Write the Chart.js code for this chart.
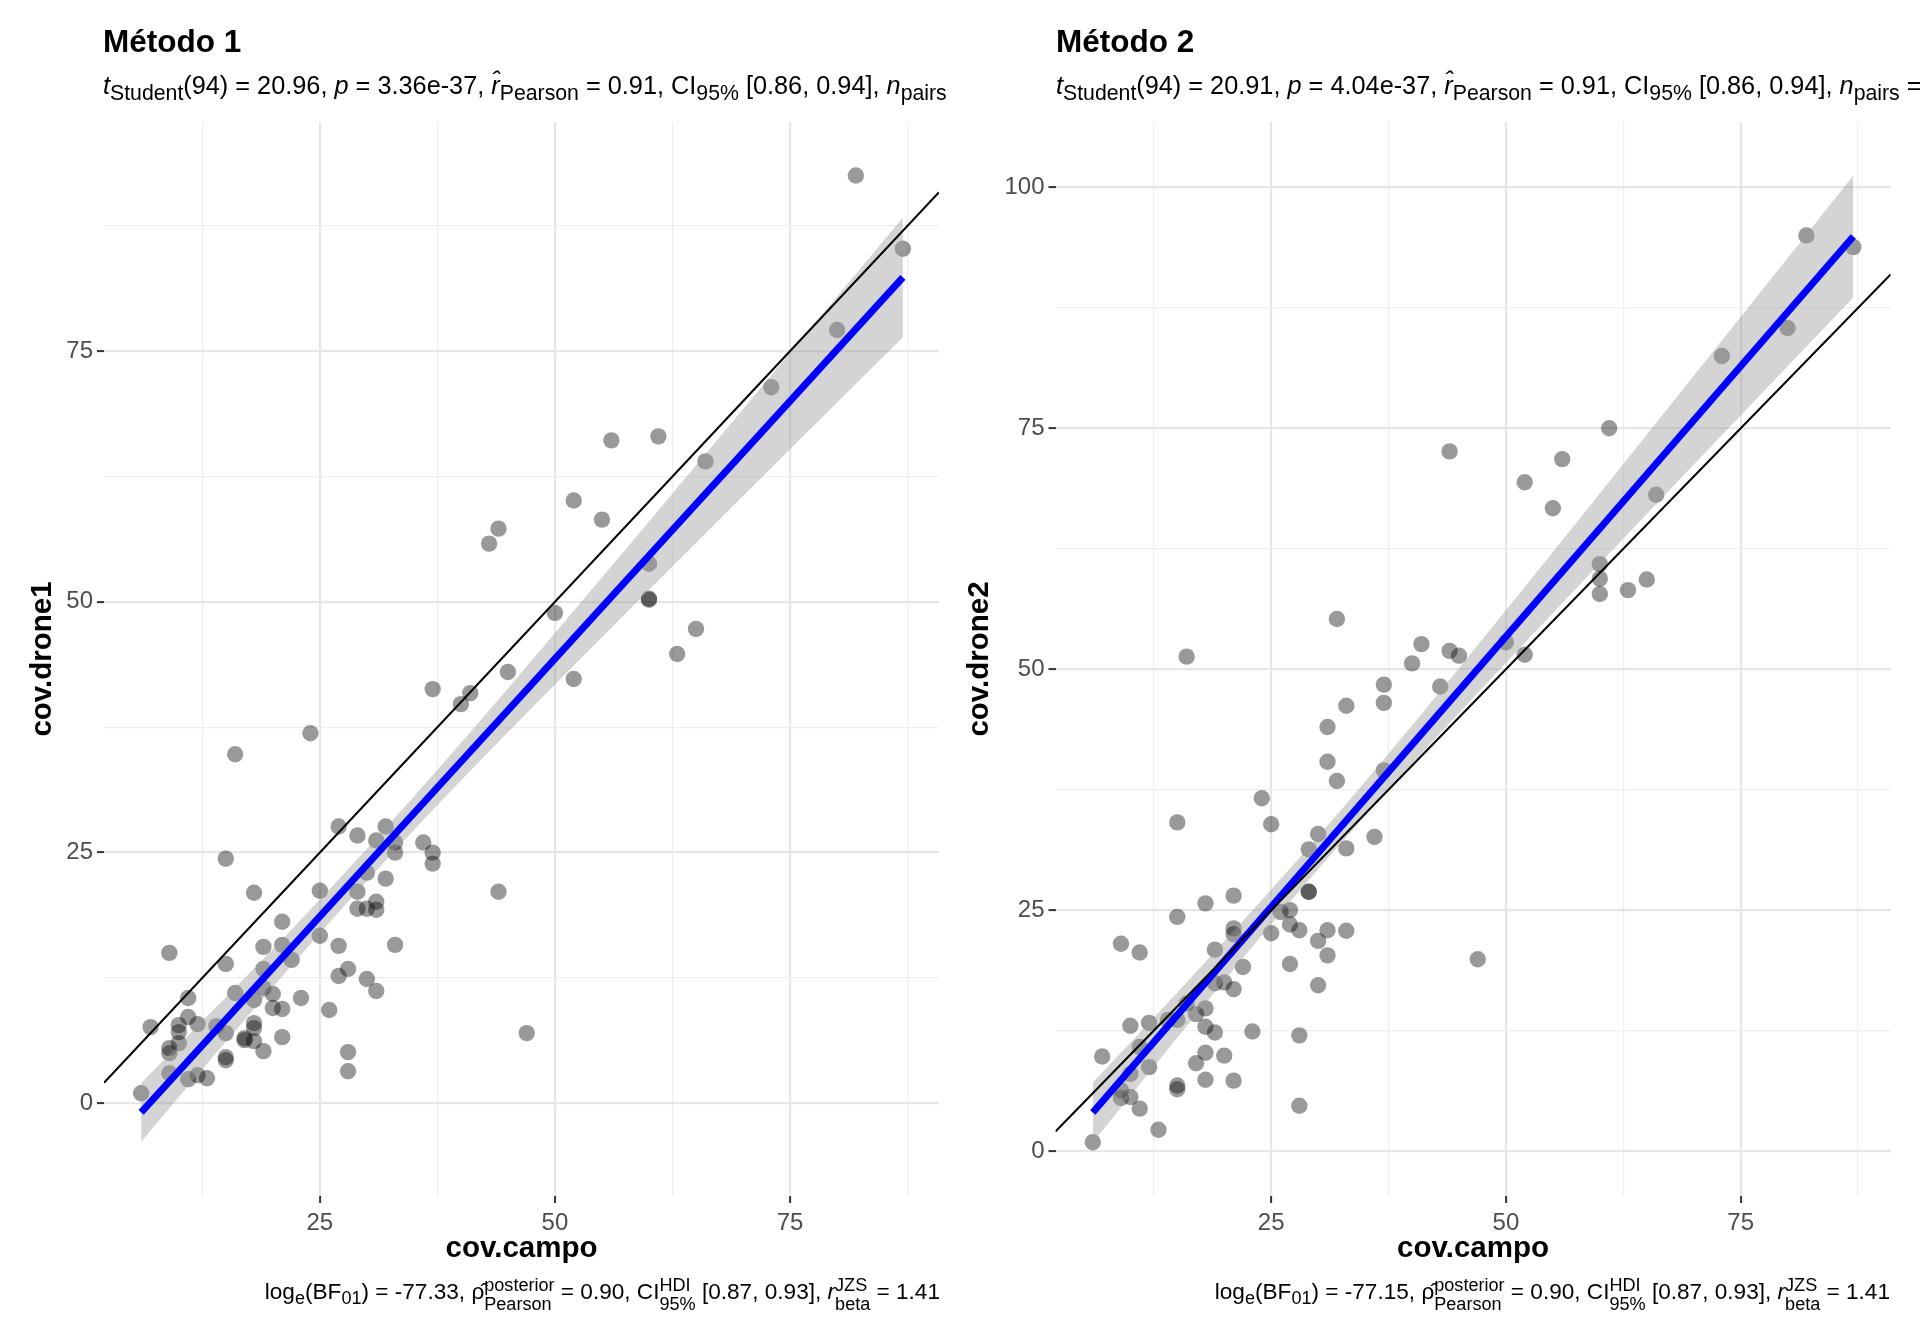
<!DOCTYPE html>
<html>
<head>
<meta charset="utf-8">
<script src="https://cdn.jsdelivr.net/npm/chart.js@4.4.1/dist/chart.umd.min.js"></script>
<style>
  html, body { margin: 0; padding: 0; background: #ffffff; overflow: hidden; }
  #wrap { position: relative; width: 1920px; height: 1344px; background: #ffffff;
          font-family: 'Liberation Sans', Arial, Helvetica, sans-serif; color: #000; }
  canvas { position: absolute; top: 0; }
  .title { position: absolute; top: 26px; font-size: 31.5px; font-weight: bold; line-height: 1; white-space: nowrap; }
  .sub { position: absolute; top: 67px; font-size: 25.3px; line-height: 1.5; white-space: nowrap; overflow: hidden; }
  .sub sub { font-size: 0.84em; vertical-align: -0.28em; line-height: 0; }
  .cap { position: absolute; top: 1271px; font-size: 22.6px; line-height: 1.9; white-space: nowrap; text-align: right; }
  .cap sub { font-size: 0.8em; vertical-align: -0.3em; line-height: 0; }
  .st { display: inline-flex; flex-direction: column; align-items: flex-start; vertical-align: 0.42em;
        font-size: 0.8em; line-height: 1.0; }
</style>
</head>
<body>
<div id="wrap">
  <canvas id="c1" width="960" height="1344" style="left:0px"></canvas>
  <canvas id="c2" width="960" height="1344" style="left:960px"></canvas>

  <div class="title" style="left:103px">Método 1</div>
  <div class="sub" style="left:103px;width:852px"><i>t</i><sub>Student</sub>(94) = 20.96, <i>p</i> = 3.36e-37, <i>r̂</i><sub>Pearson</sub> = 0.91, CI<sub>95%</sub> [0.86, 0.94], <i>n</i><sub>pairs</sub> = 96</div>
  <div class="cap" style="right:980px">log<sub>e</sub>(BF<sub>01</sub>) = -77.33, ρ̂<span class="st"><span>posterior</span><span>Pearson</span></span> = 0.90, CI<span class="st"><span>HDI</span><span>95%</span></span> [0.87, 0.93], <i>r</i><span class="st"><span>JZS</span><span>beta</span></span> = 1.41</div>

  <div class="title" style="left:1056px">Método 2</div>
  <div class="sub" style="left:1056px;width:864px"><i>t</i><sub>Student</sub>(94) = 20.91, <i>p</i> = 4.04e-37, <i>r̂</i><sub>Pearson</sub> = 0.91, CI<sub>95%</sub> [0.86, 0.94], <i>n</i><sub>pairs</sub> = 96</div>
  <div class="cap" style="right:30px">log<sub>e</sub>(BF<sub>01</sub>) = -77.15, ρ̂<span class="st"><span>posterior</span><span>Pearson</span></span> = 0.90, CI<span class="st"><span>HDI</span><span>95%</span></span> [0.87, 0.93], <i>r</i><span class="st"><span>JZS</span><span>beta</span></span> = 1.41</div>
</div>

<script>
// ---------------- DATA ----------------
// Método 1 : cov.campo (x) vs cov.drone1 (y)
const campo1 = [82,87,80,73,56,61,66,52,55,44,43,60,60,60,50,65,63,52,45,37,41,40,24,16,27,29,32,31,36,37,37,33,33,15,18,25,44,32,30,29,29,30,31,31,21,25,27,33,19,21,22,19,9,15,28,27,30,31,26,16,23,20,19,20,21,18,11,11,12,10,10,7,14,15,18,18,17,17,18,21,19,9,9,10,15,15,9,11,12,13,6,28,28,47];
const drone1 = [92.5,85.2,77.1,71.4,66.1,66.5,64.0,60.1,58.2,57.3,55.8,53.8,50.3,50.2,48.9,47.3,44.8,42.3,43.0,41.3,40.9,39.8,36.9,34.8,27.6,26.7,27.6,26.2,26.0,25.0,23.9,25.0,26.0,24.4,21.0,21.2,21.1,22.4,23.0,21.1,19.4,19.4,19.3,20.1,18.1,16.7,15.7,15.8,15.6,15.8,14.3,13.4,15.0,13.9,13.4,12.7,12.4,11.2,9.3,11.0,10.5,10.9,11.5,9.5,9.4,10.3,10.5,8.6,7.9,7.8,7.1,7.6,7.7,7.0,8.0,7.5,6.5,6.3,6.2,6.6,5.2,5.5,5.0,6.0,4.6,4.3,3.0,2.4,2.8,2.5,1.0,5.1,3.2,7.0];

// Método 2 : cov.campo (x) vs cov.drone2 (y)
const campo2 = [82,87,80,73,61,44,56,52,55,66,60,60,60,63,65,32,41,40,44,45,50,52,16,37,37,43,33,31,31,32,37,24,15,25,30,29,33,36,6,13,11,9,10,9,10,7,11,12,10,12,14,15,16,17,18,18,19,23,28,18,17,20,18,21,15,15,28,9,11,15,18,21,19,21,21,22,19,20,21,25,26,27,27,28,29,29,31,33,30,31,27,30,47];
const drone2 = [95.0,93.8,85.4,82.5,75.0,72.6,71.8,69.4,66.7,68.1,60.9,59.4,57.8,58.2,59.3,55.2,52.6,50.6,51.9,51.4,52.8,51.5,51.3,48.4,46.5,48.2,46.2,44.0,40.4,38.4,39.5,36.6,34.1,33.9,32.9,31.3,31.4,32.6,0.9,2.2,4.4,5.5,5.6,6.3,8.0,9.8,10.8,8.7,13.0,13.3,13.6,13.6,15.3,14.2,14.8,12.9,12.3,12.4,12.0,10.2,9.1,9.9,7.4,7.3,6.8,6.4,4.7,21.5,20.6,24.3,25.7,26.5,20.9,23.1,22.5,19.1,17.4,17.5,16.8,22.6,24.8,25.0,23.5,22.9,26.9,26.9,22.9,22.85,21.8,20.3,19.4,17.2,19.9];

// linear fit and 95% band, read at a few x positions
const fitX   = [6, 15, 22, 30, 38, 45, 60, 75, 87];
const fitY1  = [-0.90, 8.35, 15.54, 23.77, 31.99, 39.18, 54.60, 70.02, 82.35];
const fitLo1 = [-3.82, 6.13, 13.74, 22.17, 30.21, 36.99, 51.19, 65.21, 76.38];
const fitHi1 = [2.02, 10.57, 17.34, 25.37, 33.77, 41.37, 58.01, 74.83, 88.32];
const fitY2  = [4.00, 14.10, 21.96, 30.93, 39.91, 47.77, 64.60, 81.43, 94.90];
const fitLo2 = [0.89, 11.74, 20.04, 29.23, 38.01, 45.44, 60.97, 76.32, 88.56];
const fitHi2 = [7.11, 16.46, 23.88, 32.63, 41.81, 50.10, 68.23, 86.54, 101.24];

// axis ranges and ticks
const xRange1 = [2.05, 90.84];
const yRange1 = [-9.24, 97.84];
const xRange2 = [2.03, 90.97];
const yRange2 = [-4.67, 106.78];
const xTicks  = [12.5, 25, 37.5, 50, 62.5, 75, 87.5];
const yTicks1 = [0, 12.5, 25, 37.5, 50, 62.5, 75, 87.5];
const yTicks2 = [0, 12.5, 25, 37.5, 50, 62.5, 75, 87.5, 100];

// ---------------- CHARTS ----------------
Chart.defaults.font.family = "'Liberation Sans', Arial, Helvetica, sans-serif";

function pairs(xs, ys) { return xs.map((x, i) => ({ x: x, y: ys[i] })); }
const isMajor = (v) => Math.abs(v % 25) < 1e-9;

function makePanel(id, cfg) {
  const gridOpts = {
    color: (c) => (c.tick && isMajor(c.tick.value) ? '#e6e6e6' : '#eeeeee'),
    lineWidth: (c) => (c.tick && isMajor(c.tick.value) ? 2.2 : 1.2),
    tickColor: (c) => (c.tick && isMajor(c.tick.value) ? '#333333' : 'rgba(0,0,0,0)'),
    tickLength: 7,
    tickWidth: 2,
    drawTicks: true,
    drawOnChartArea: true
  };
  const tickFont = { size: 24 };
  new Chart(document.getElementById(id), {
    type: 'line',
    data: {
      datasets: [
        { label: 'identity', data: [{ x: cfg.xr[0], y: cfg.xr[0] }, { x: cfg.xr[1], y: cfg.xr[1] }],
          borderColor: '#000000', borderWidth: 2, pointRadius: 0, fill: false, order: 0 },
        { label: 'fit', data: pairs(fitX, cfg.fit), borderColor: '#0000ff', borderWidth: 7,
          borderCapStyle: 'butt', pointRadius: 0, fill: false, order: 1 },
        { label: 'lo', data: pairs(fitX, cfg.lo), borderColor: 'rgba(0,0,0,0)', borderWidth: 0,
          pointRadius: 0, fill: false, order: 2, tension: 0.4, cubicInterpolationMode: 'monotone' },
        { label: 'hi', data: pairs(fitX, cfg.hi), borderColor: 'rgba(0,0,0,0)', borderWidth: 0,
          pointRadius: 0, fill: '-1', backgroundColor: 'rgba(153,153,153,0.42)', order: 2,
          tension: 0.4, cubicInterpolationMode: 'monotone' },
        { label: 'pts', data: pairs(cfg.px, cfg.py), showLine: false, pointRadius: 8.2,
          pointBackgroundColor: 'rgba(0,0,0,0.4)', pointBorderWidth: 0, pointBorderColor: 'rgba(0,0,0,0)', order: 3 }
      ]
    },
    options: {
      responsive: false,
      animation: false,
      events: [],
      layout: { padding: { left: 0, right: cfg.padRight, top: 122, bottom: 0 } },
      plugins: { legend: { display: false }, tooltip: { enabled: false }, title: { display: false } },
      scales: {
        x: {
          type: 'linear', min: cfg.xr[0], max: cfg.xr[1],
          afterBuildTicks: (s) => { s.ticks = xTicks.map((v) => ({ value: v })); },
          afterFit: (s) => { s.height = 148; },
          grid: gridOpts,
          border: { display: false },
          ticks: { autoSkip: false, maxRotation: 0, padding: 6, color: '#4d4d4d', font: tickFont,
                   callback: (v) => (isMajor(v) ? String(v) : '') },
          title: { display: true, text: 'cov.campo', color: '#000', font: { size: 29.5, weight: 'bold' },
                   padding: { top: 0, bottom: 77 } }
        },
        y: {
          type: 'linear', min: cfg.yr[0], max: cfg.yr[1],
          afterBuildTicks: (s) => { s.ticks = cfg.yt.map((v) => ({ value: v })); },
          afterFit: (s) => { s.width = cfg.yWidth; },
          grid: gridOpts,
          border: { display: false },
          ticks: { autoSkip: false, padding: 4, color: '#4d4d4d', font: tickFont,
                   callback: (v) => (isMajor(v) ? String(v) : '') },
          title: { display: true, text: cfg.yTitle, color: '#000', font: { size: 29.5, weight: 'bold' },
                   padding: { top: cfg.yTitlePad, bottom: 0 } }
        }
      }
    }
  });
}

makePanel('c1', { px: campo1, py: drone1, fit: fitY1, lo: fitLo1, hi: fitHi1,
                  xr: xRange1, yr: yRange1, yt: yTicks1, yTitle: 'cov.drone1',
                  yWidth: 104, padRight: 21, yTitlePad: 25 });
makePanel('c2', { px: campo2, py: drone2, fit: fitY2, lo: fitLo2, hi: fitHi2,
                  xr: xRange2, yr: yRange2, yt: yTicks2, yTitle: 'cov.drone2',
                  yWidth: 95.5, padRight: 29.4, yTitlePad: 2 });
</script>
</body>
</html>
